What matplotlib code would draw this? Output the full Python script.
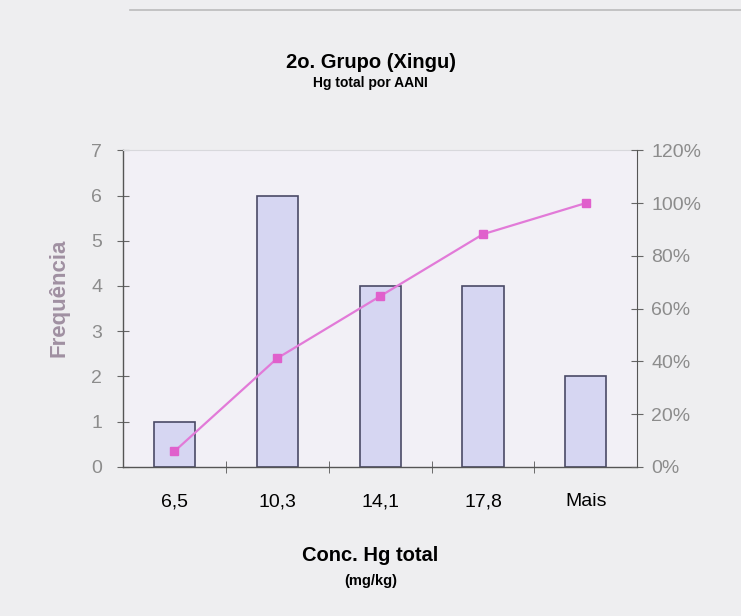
import matplotlib
matplotlib.use("Agg")
import matplotlib.pyplot as plt
from matplotlib.ticker import FixedLocator

categories = ["6,5", "10,3", "14,1", "17,8", "Mais"]
frequencies = [1, 6, 4, 4, 2]
cumulative_pct = [5.9, 41.2, 64.7, 88.2, 100.0]
left_ticks = [0, 1, 2, 3, 4, 5, 6, 7]
right_ticks = [0, 20, 40, 60, 80, 100, 120]

plt.rcParams['font.family'] = ['Liberation Sans', 'DejaVu Sans']

fig = plt.figure(figsize=(7.41, 6.16), dpi=100)
fig.patch.set_facecolor('#eeeef0')

ax = fig.add_axes([0.166, 0.242, 0.694, 0.514])
ax.set_facecolor('#f2f0f6')
x = list(range(len(categories)))
ax.bar(x, frequencies, width=0.4, color='#d6d6f2', edgecolor='#4a4a66', linewidth=1.2, zorder=2)
ax.set_xlim(-0.5, len(categories) - 0.5)
ax.set_ylim(0, 7)
ax.set_yticks(left_ticks)
ax.set_xticks(x)
ax.set_xticklabels(categories, fontsize=14, color='black')
ax.xaxis.set_minor_locator(FixedLocator([i + 0.5 for i in x[:-1]]))
ax.tick_params(axis='x', which='major', length=0, pad=19)
ax.tick_params(axis='x', which='minor', length=8, direction='inout', color='#555555')
ax.tick_params(axis='y', labelsize=14, labelcolor='#8c8c8c', direction='inout', length=8, color='#666666', pad=11)
for s in ['left', 'bottom']:
    ax.spines[s].set_color('#555555')
    ax.spines[s].set_linewidth(1.0)
ax.spines['top'].set_color('#d8d8dc')
ax.spines['right'].set_visible(False)

ax.set_ylabel('Frequência', fontsize=16, fontweight='bold', color='#a090a2')
ax.yaxis.set_label_coords(-0.105, 0.535)

ax2 = ax.twinx()
ax2.plot(x, cumulative_pct, color='#e27ad8', linewidth=1.6, marker='s', markersize=6,
         markerfacecolor='#e060cc', markeredgecolor='#e060cc', zorder=3)
ax2.set_ylim(0, 120)
ax2.set_yticks(right_ticks)
ax2.set_yticklabels([f"{v}%" for v in right_ticks])
ax2.tick_params(axis='y', labelsize=14, labelcolor='#8c8c8c', direction='inout', length=8, color='#666666', pad=6)
ax2.spines['right'].set_color('#555555')
ax2.spines['left'].set_visible(False)
ax2.spines['top'].set_visible(False)
ax2.spines['bottom'].set_visible(False)

fig.text(0.5, 0.899, '2o. Grupo (Xingu)', ha='center', va='center', fontsize=14.5, fontweight='bold')
fig.text(0.5, 0.866, 'Hg total por AANI', ha='center', va='center', fontsize=10, fontweight='bold')
fig.text(0.5, 0.099, 'Conc. Hg total', ha='center', va='center', fontsize=14.5, fontweight='bold')
fig.text(0.5, 0.057, '(mg/kg)', ha='center', va='center', fontsize=10.5, fontweight='bold')

# faint scan lines of the original page
fig.add_artist(plt.Line2D([0.175, 1.0], [0.984, 0.984], color='#9a9a9a', linewidth=1.2, alpha=0.6))

fig.savefig('out.png', dpi=100, facecolor=fig.get_facecolor())
